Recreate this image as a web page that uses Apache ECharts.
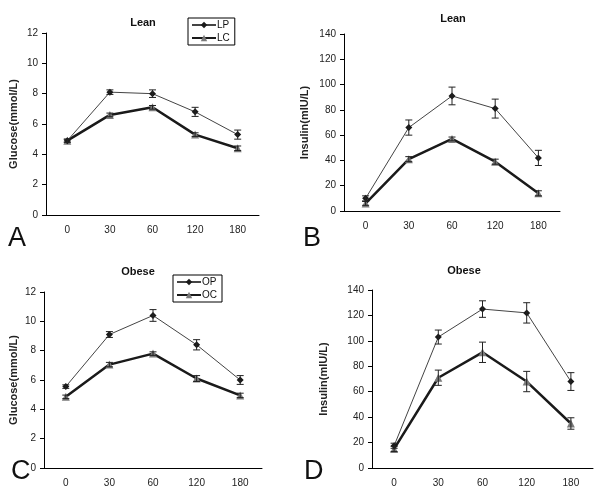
<!DOCTYPE html>
<html><head><meta charset="utf-8">
<script src="https://cdn.jsdelivr.net/npm/echarts@6/dist/echarts.min.js"></script>
<style>html,body{margin:0;padding:0;background:#fff}#c{width:605px;height:493px}</style>
</head><body><div id="c"></div>
<script>
var categories = ['0', '30', '60', '120', '180'];
var glucoseTicks = [0, 12, 2];
var insulinTicks = [0, 140, 20];

var leanGlucoseLP = [4.9, 8.1, 8.0, 6.8, 5.3];
var leanGlucoseLPErr = [0.1, 0.15, 0.25, 0.3, 0.3];
var leanGlucoseLC = [4.9, 6.6, 7.1, 5.3, 4.4];
var leanGlucoseLCErr = [0.1, 0.12, 0.12, 0.12, 0.15];

var leanInsulinLP = [10, 66, 91, 81, 42];
var leanInsulinLPErr = [2, 6, 7, 7.5, 6];
var leanInsulinLC = [6, 41, 57, 39, 14];
var leanInsulinLCErr = [1.5, 2, 1.5, 2, 2];

var obeseGlucoseOP = [5.55, 9.1, 10.4, 8.4, 6.0];
var obeseGlucoseOPErr = [0.12, 0.2, 0.4, 0.35, 0.3];
var obeseGlucoseOC = [4.85, 7.05, 7.8, 6.1, 4.95];
var obeseGlucoseOCErr = [0.12, 0.15, 0.12, 0.2, 0.15];

var obeseInsulinOP = [17.5, 103, 125, 122, 68];
var obeseInsulinOPErr = [2, 5.5, 6.5, 8, 7];
var obeseInsulinOC = [15, 71, 91, 68, 35];
var obeseInsulinOCErr = [2, 6, 8, 8, 4.5];

var chart = echarts.init(document.getElementById('c'), null, {renderer: 'canvas'});
var FONT = 'Arial, "Liberation Sans", sans-serif';

var grids = [
  {left: 46, top: 33, width: 213, height: 182},
  {left: 344, top: 34, width: 216, height: 177},
  {left: 44, top: 292, width: 218, height: 176},
  {left: 372, top: 290, width: 221, height: 178}
];
var yNames = ['Glucose(mmol/L)', 'Insulin(mIU/L)', 'Glucose(mmol/L)', 'Insulin(mIU/L)'];
var yTicks = [glucoseTicks, insulinTicks, glucoseTicks, insulinTicks];
var nameGaps = [27, 34, 25, 43];

var xAxes = grids.map(function (g, i) {
  return {
    type: 'category', gridIndex: i, data: categories, boundaryGap: true,
    axisLine: {lineStyle: {color: '#000', width: 1}},
    axisTick: {inside: true, length: 4, lineStyle: {color: '#000'}},
    axisLabel: {color: '#222', fontSize: 10, fontFamily: FONT, margin: 10},
    splitLine: {show: false}
  };
});
var yAxes = grids.map(function (g, i) {
  return {
    type: 'value', gridIndex: i, min: yTicks[i][0], max: yTicks[i][1], interval: yTicks[i][2],
    name: yNames[i], nameLocation: 'middle', nameGap: nameGaps[i],
    nameTextStyle: {color: '#222', fontSize: 11, fontWeight: 'bold', fontFamily: FONT},
    axisLine: {show: true, lineStyle: {color: '#000', width: 1}},
    axisTick: {show: true, length: 4, lineStyle: {color: '#000'}},
    axisLabel: {color: '#222', fontSize: 10, fontFamily: FONT, margin: 8},
    splitLine: {show: false}
  };
});

function lineP(name, idx, data) {
  return {
    name: name, type: 'line', xAxisIndex: idx, yAxisIndex: idx, data: data,
    symbol: 'diamond', symbolSize: 7, z: 4,
    itemStyle: {color: '#1a1a1a'},
    lineStyle: {color: '#444', width: 1}
  };
}
function lineC(name, idx, data) {
  return {
    name: name, type: 'line', xAxisIndex: idx, yAxisIndex: idx, data: data,
    symbol: 'triangle', symbolSize: 8, z: 3,
    itemStyle: {color: '#7a7a7a'},
    lineStyle: {color: '#1a1a1a', width: 2.5}
  };
}
function errBars(idx, vals, errs) {
  var d = vals.map(function (v, k) { return [k, v - errs[k], v + errs[k]]; });
  return {
    type: 'custom', xAxisIndex: idx, yAxisIndex: idx, data: d, z: 5, silent: true,
    renderItem: function (params, api) {
      var lo = api.coord([api.value(0), api.value(1)]);
      var hi = api.coord([api.value(0), api.value(2)]);
      var w = 3.5;
      var st = {stroke: '#222', lineWidth: 1};
      return {type: 'group', children: [
        {type: 'line', shape: {x1: lo[0], y1: lo[1], x2: hi[0], y2: hi[1]}, style: st},
        {type: 'line', shape: {x1: lo[0] - w, y1: lo[1], x2: lo[0] + w, y2: lo[1]}, style: st},
        {type: 'line', shape: {x1: hi[0] - w, y1: hi[1], x2: hi[0] + w, y2: hi[1]}, style: st}
      ]};
    }
  };
}

var titleStyle = {color: '#111', fontSize: 11, fontWeight: 'bold', fontFamily: FONT};
var letterStyle = {color: '#111', fontSize: 27, fontWeight: 'normal', fontFamily: FONT};

chart.setOption({
  animation: false,
  backgroundColor: '#fff',
  title: [
    {text: 'Lean', left: 138, top: 12, textAlign: 'center', textStyle: titleStyle},
    {text: 'Lean', left: 448, top: 8, textAlign: 'center', textStyle: titleStyle},
    {text: 'Obese', left: 133, top: 261, textAlign: 'center', textStyle: titleStyle},
    {text: 'Obese', left: 459, top: 260, textAlign: 'center', textStyle: titleStyle},
    {text: 'A', left: 3, top: 220, textStyle: letterStyle},
    {text: 'B', left: 298, top: 220, textStyle: letterStyle},
    {text: 'C', left: 6, top: 453, textStyle: letterStyle},
    {text: 'D', left: 299, top: 453, textStyle: letterStyle}
  ],
  legend: [
    {data: ['LP', 'LC'], orient: 'vertical', left: 188, top: 18, itemGap: 3,
     itemWidth: 24, itemHeight: 8, padding: [2, 5, 2, 3], borderColor: '#000', borderWidth: 1,
     textStyle: {fontSize: 10, fontFamily: FONT, color: '#111', padding: [0, 0, 0, -4]}},
    {data: ['OP', 'OC'], orient: 'vertical', left: 173, top: 275, itemGap: 3,
     itemWidth: 24, itemHeight: 8, padding: [2, 5, 2, 3], borderColor: '#000', borderWidth: 1,
     textStyle: {fontSize: 10, fontFamily: FONT, color: '#111', padding: [0, 0, 0, -4]}}
  ],
  grid: grids.map(function (g) { return Object.assign({containLabel: false}, g); }),
  xAxis: xAxes,
  yAxis: yAxes,
  series: [
    lineP('LP', 0, leanGlucoseLP), lineC('LC', 0, leanGlucoseLC),
    errBars(0, leanGlucoseLP, leanGlucoseLPErr), errBars(0, leanGlucoseLC, leanGlucoseLCErr),
    lineP('LP insulin', 1, leanInsulinLP), lineC('LC insulin', 1, leanInsulinLC),
    errBars(1, leanInsulinLP, leanInsulinLPErr), errBars(1, leanInsulinLC, leanInsulinLCErr),
    lineP('OP', 2, obeseGlucoseOP), lineC('OC', 2, obeseGlucoseOC),
    errBars(2, obeseGlucoseOP, obeseGlucoseOPErr), errBars(2, obeseGlucoseOC, obeseGlucoseOCErr),
    lineP('OP insulin', 3, obeseInsulinOP), lineC('OC insulin', 3, obeseInsulinOC),
    errBars(3, obeseInsulinOP, obeseInsulinOPErr), errBars(3, obeseInsulinOC, obeseInsulinOCErr)
  ]
});
</script>
</body></html>
